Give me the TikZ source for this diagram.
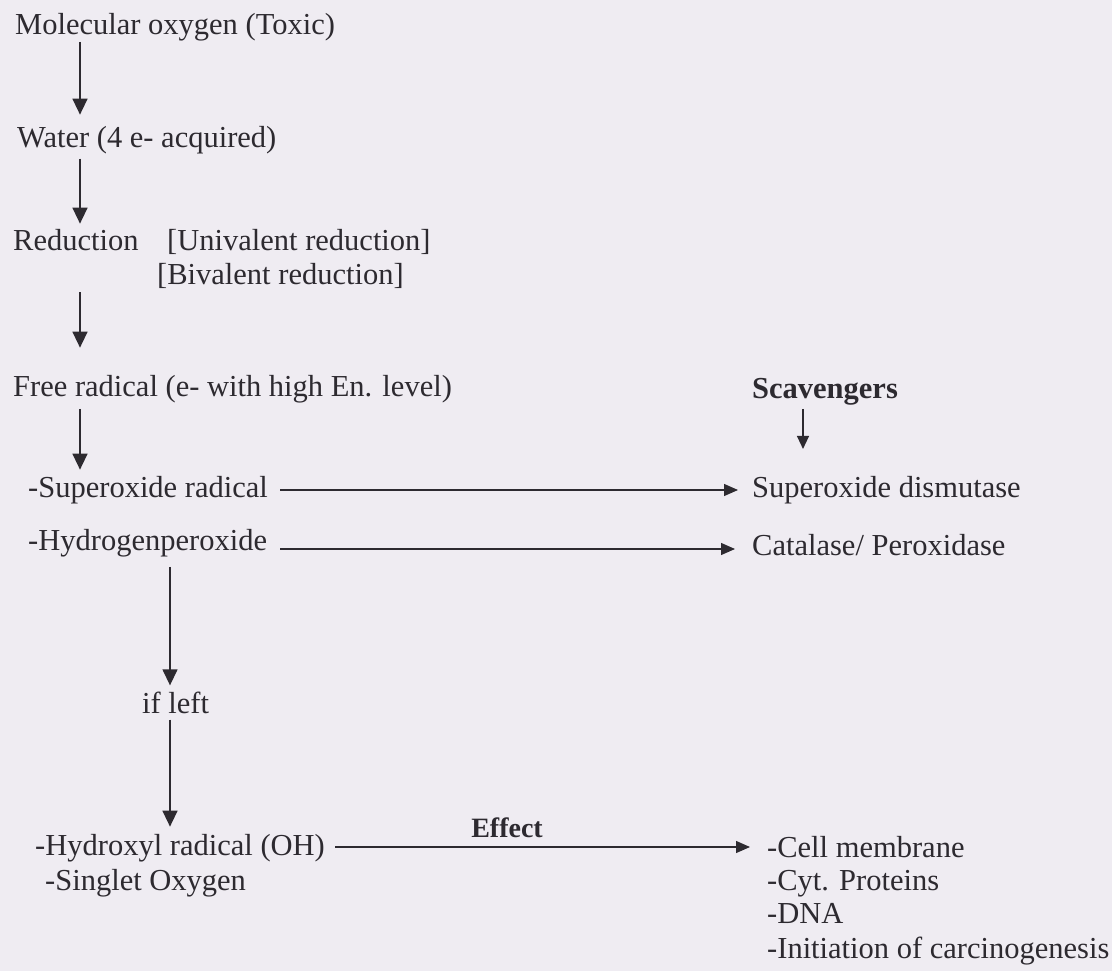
\documentclass[tikz,border=0pt]{standalone}
\usepackage{fontspec}
\setmainfont{Liberation Serif}
\usetikzlibrary{arrows.meta}
\definecolor{bg}{RGB}{239,236,242}
\definecolor{ink}{RGB}{45,42,48}
\begin{document}
\begin{tikzpicture}[x=1pt,y=-1pt,
  lbl/.style={anchor=base west,inner sep=0pt,text=ink,font=\fontsize{30.5}{34}\selectfont},
  varr/.style={draw=ink,line width=1.4pt,-{Triangle[length=16pt,width=15pt]}},
  harr/.style={draw=ink,line width=1.3pt,-{Triangle[length=14pt,width=12pt]}}]
\fill[bg] (0,0) rectangle (1112,971);
\useasboundingbox (0,0) rectangle (1112,971);
% left column
\node[lbl] (mo) at (15,35) {Molecular oxygen (Toxic)};
\node[lbl] (water) at (17,148) {Water (4 e- acquired)};
\node[lbl] (red) at (13,251) {Reduction};
\node[lbl] (univ) at (167,251) {[Univalent reduction]};
\node[lbl] (biv) at (157,284) {[Bivalent reduction]};
\node[lbl] (free) at (13,396) {Free radical (e- with high En. level)};
\node[lbl] (sup) at (28,497) {-Superoxide radical};
\node[lbl] (hyd) at (28,550) {-Hydrogenperoxide};
\node[lbl] (ifl) at (142,713) {if left};
\node[lbl] (hox) at (35,855) {-Hydroxyl radical (OH)};
\node[lbl] (sing) at (45,890) {-Singlet Oxygen};
% right column
\node[lbl,font=\fontsize{30.5}{34}\selectfont\bfseries] (scav) at (752,398) {Scavengers};
\node[lbl] (sod) at (752,497) {Superoxide dismutase};
\node[lbl] (cat) at (752,555) {Catalase/ Peroxidase};
\node[lbl] (cell) at (767,857) {-Cell membrane};
\node[lbl] (cyt) at (767,890) {-Cyt. Proteins};
\node[lbl] (dna) at (767,923) {-DNA};
\node[lbl] (init) at (767,958) {-Initiation of carcinogenesis};
\node[anchor=base,inner sep=0pt,text=ink,font=\fontsize{28}{30}\selectfont\bfseries] (eff) at (507,837) {Effect};
% vertical arrows
\coordinate (ax) at (80,0);
\coordinate (bx) at (170,0);
\coordinate (sx) at (803,0);
\draw[varr] (ax |- mo.south) -- ([yshift=12pt]ax |- water.north);
\draw[varr] ([yshift=-4pt]ax |- water.south) -- ([yshift=6pt]ax |- red.north);
\draw[varr] ([yshift=-4pt]ax |- biv.south) -- ([yshift=27pt]ax |- free.north);
\draw[varr] ([yshift=-6pt]ax |- free.south) -- ([yshift=6pt]ax |- sup.north);
\draw[varr] ([yshift=-10pt]bx |- hyd.south) -- ([yshift=6pt]bx |- ifl.north);
\draw[varr] ([yshift=-6pt]bx |- ifl.south) -- ([yshift=7pt]bx |- hox.north);
\draw[draw=ink,line width=1.3pt,-{Triangle[length=13pt,width=12pt]}] ([yshift=-4pt]sx |- scav.south) -- ([yshift=-44pt]sx |- scav.south);
% horizontal arrows
\coordinate (lx) at (280,0);
\draw[harr] ([yshift=7pt]lx |- sup.base) -- ([xshift=-14pt,yshift=7pt]sod.base west);
\draw[harr] ([yshift=1pt]lx |- hyd.base) -- ([xshift=-17pt,yshift=6pt]cat.base west);
\coordinate (ex) at (335,0);
\draw[harr] ([yshift=8pt]ex |- hox.base) -- ([xshift=-17pt,yshift=10pt]cell.base west);
\end{tikzpicture}
\end{document}
